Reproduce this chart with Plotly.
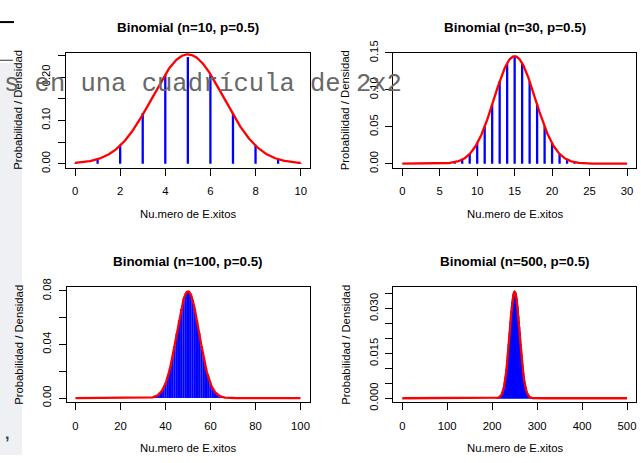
import math
import numpy as np
import plotly.graph_objects as go

# Parameters of the four binomial panels
n_trials = [10, 30, 100, 500]
p_success = 0.5
x_tick_steps = [2, 5, 20, 100]
y_tick_steps = [0.05, 0.05, 0.02, 0.005]
y_label_every = [2, 1, 2, 3]
y_tick_decimals = [2, 2, 2, 3]
titles = [f"Binomial (n={n}, p={p_success})" for n in n_trials]
x_title = "Nu.mero de E.xitos"
y_title = "Probabilidad / Densidad"
overlay_text = "s en una cuadrícula de 2x2"

W, H = 641, 463
# plot boxes in pixels: left, right, top, bottom
boxes = [(66, 309.7, 41.7, 162.3), (393.3, 636, 41.7, 162.3),
         (66.5, 309.5, 287.3, 407.8), (393.3, 636, 287.5, 408)]

FONT = "Liberation Sans, Arial, sans-serif"
BLUE = "#0000FF"
RED = "#FF0000"


def px(x):
    return x / W


def py(y):
    return 1 - y / H


def binom_pmf(n, p):
    k = np.arange(n + 1)
    vals = np.array([math.comb(n, int(i)) * p ** int(i) * (1 - p) ** (n - int(i)) for i in k])
    return k, vals


def normal_density(x, mu, sd):
    return np.exp(-0.5 * ((x - mu) / sd) ** 2) / (sd * math.sqrt(2 * math.pi))


fig = go.Figure()
annotations = []

for i, n in enumerate(n_trials):
    idx = "" if i == 0 else str(i + 1)
    xa, ya = "x" + idx, "y" + idx
    left, right, top, bottom = boxes[i]

    k, pmf = binom_pmf(n, p_success)
    ymax = pmf.max()

    # vertical probability bars (type "h")
    seg_x, seg_y = [], []
    for kk, v in zip(k, pmf):
        seg_x += [kk, kk, None]
        seg_y += [0, v, None]
    fig.add_trace(go.Scatter(x=seg_x, y=seg_y, mode="lines", xaxis=xa, yaxis=ya,
                             line=dict(color=BLUE, width=2.3), hoverinfo="skip",
                             showlegend=False))

    # normal approximation curve
    mu = n * p_success
    sd = math.sqrt(n * p_success * (1 - p_success))
    xs = np.linspace(0, n, 401)
    fig.add_trace(go.Scatter(x=xs, y=normal_density(xs, mu, sd), mode="lines",
                             xaxis=xa, yaxis=ya, line=dict(color=RED, width=2.3),
                             hoverinfo="skip", showlegend=False))

    xticks = list(range(0, n + 1, x_tick_steps[i]))
    ystep = y_tick_steps[i]
    nt = int(math.floor(ymax * 1.04 / ystep + 1e-9))
    yticks = [j * ystep for j in range(nt + 1)]
    ytext = [f"{v:.{y_tick_decimals[i]}f}" if j % y_label_every[i] == 0 else ""
             for j, v in enumerate(yticks)]

    axis_common = dict(showgrid=False, zeroline=False, showline=True, mirror=True,
                       linecolor="black", linewidth=1, ticks="outside", ticklen=7,
                       tickwidth=1, tickcolor="black",
                       tickfont=dict(family=FONT, size=11.3, color="black"))
    fig.update_layout(**{
        ("xaxis" + idx): dict(domain=[px(left), px(right)], anchor=ya,
                              range=[-0.04 * n, 1.04 * n], tickmode="array",
                              tickvals=xticks, ticktext=[str(t) for t in xticks],
                              ticklabelstandoff=6, **axis_common),
        ("yaxis" + idx): dict(domain=[py(bottom), py(top)], anchor=xa,
                              range=[-0.04 * ymax, 1.04 * ymax], tickmode="array",
                              tickvals=yticks, ticktext=ytext, tickangle=-90,
                              ticklabelstandoff=3, **axis_common),
    })

    cx = px((left + right) / 2)
    cy = py((top + bottom) / 2)
    annotations.append(dict(text=f"<b>{titles[i]}</b>", x=cx, y=py(top - 27),
                            xref="paper", yref="paper", showarrow=False,
                            xanchor="center", yanchor="middle",
                            font=dict(family=FONT, size=13.4, color="black")))
    annotations.append(dict(text=x_title, x=cx, y=py(bottom + 48), xref="paper",
                            yref="paper", showarrow=False, xanchor="center",
                            yanchor="middle",
                            font=dict(family=FONT, size=11.3, color="black")))
    annotations.append(dict(text=y_title, x=px(left - 47.5), y=cy, xref="paper",
                            yref="paper", showarrow=False, textangle=-90,
                            xanchor="center", yanchor="middle",
                            font=dict(family=FONT, size=11.3, color="black")))

# text running across the top row
annotations.append(dict(text=overlay_text, x=px(1.5), y=py(75), xref="paper",
                        yref="paper", showarrow=False, xanchor="left",
                        yanchor="middle",
                        font=dict(family="Liberation Mono, Courier New, monospace",
                                  size=25.5, color="#686868")))
annotations.append(dict(text="<b>,</b>", x=px(7), y=py(440), xref="paper",
                        yref="paper", showarrow=False, xanchor="center",
                        yanchor="middle",
                        font=dict(family=FONT, size=16, color="#1f4656")))

shapes = [
    dict(type="rect", xref="paper", yref="paper", x0=0, x1=px(22), y0=0, y1=py(52),
         fillcolor="#eef0f3", line=dict(width=0), layer="below"),
    dict(type="line", xref="paper", yref="paper", x0=0, x1=px(14), y0=py(9.5),
         y1=py(9.5), line=dict(color="black", width=2)),
    dict(type="line", xref="paper", yref="paper", x0=0, x1=px(13), y0=py(49.5),
         y1=py(49.5), line=dict(color="#333333", width=1)),
]

fig.update_layout(width=W, height=H, margin=dict(l=0, r=0, t=0, b=0),
                  paper_bgcolor="white", plot_bgcolor="white",
                  annotations=annotations, shapes=shapes,
                  font=dict(family=FONT, color="black"))

fig.write_html("out.html")
